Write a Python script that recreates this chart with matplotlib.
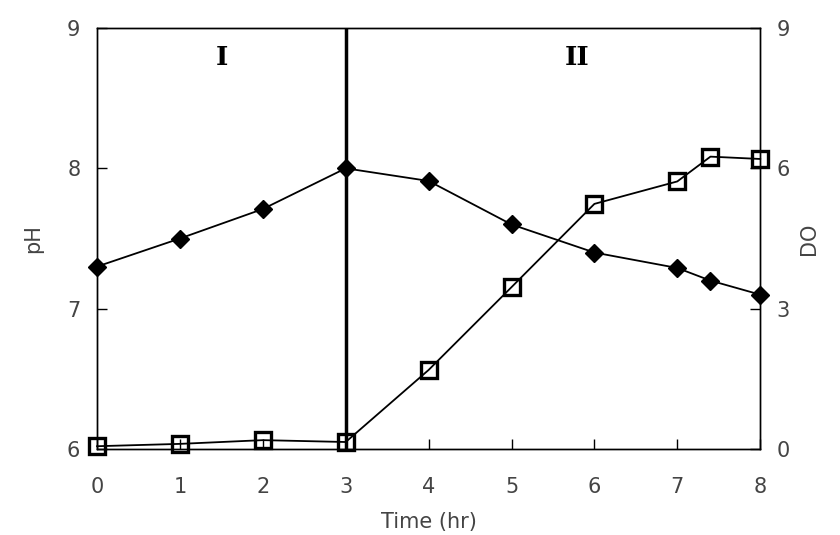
import matplotlib
matplotlib.use("Agg")
import matplotlib.pyplot as plt

# time points (hr)
time_ph = [0, 1, 2, 3, 4, 5, 6, 7, 7.4, 8]
ph = [7.3, 7.5, 7.71, 8.0, 7.91, 7.6, 7.4, 7.29, 7.2, 7.1]

time_do = [0, 1, 2, 3, 4, 5, 6, 7, 7.4, 8]
do = [0.06, 0.11, 0.19, 0.15, 1.69, 3.46, 5.24, 5.72, 6.25, 6.2]

xticks = [0, 1, 2, 3, 4, 5, 6, 7, 8]
ph_ticks = [6, 7, 8, 9]
do_ticks = [0, 3, 6, 9]

tick_col = '#444444'

fig = plt.figure(figsize=(8.4, 5.35), dpi=100)
ax = fig.add_axes([0.1155, 0.1607, 0.7895, 0.787])
ax2 = ax.twinx()

ax.plot(time_ph, ph, color='black', lw=1.3, marker='D', ms=9,
        mfc='black', mec='black', zorder=3, clip_on=False)
ax2.plot(time_do, do, color='black', lw=1.3, marker='s', ms=11,
         mfc='none', mec='black', mew=2.4, zorder=3, clip_on=False)

# phase boundary
ax.axvline(3, color='black', lw=2.5, zorder=2)
ax.text(1.51, 8.79, 'I', fontsize=19, fontweight='bold', family='DejaVu Serif',
        ha='center', va='center')
ax.text(5.79, 8.79, 'II', fontsize=19, fontweight='bold', family='DejaVu Serif',
        ha='center', va='center')

ax.set_xlim(0, 8)
ax.set_ylim(6, 9)
ax2.set_ylim(0, 9)
ax.set_xticks(xticks)
ax.set_yticks(ph_ticks)
ax2.set_yticks(do_ticks)

for a in (ax, ax2):
    a.tick_params(direction='in', length=7, width=1, labelsize=15,
                  labelcolor=tick_col, pad=12)
    for s in a.spines.values():
        s.set_linewidth(1)
ax.tick_params(axis='x', pad=20)

ax.set_xlabel('Time (hr)', fontsize=15, color=tick_col, labelpad=11)
ax.set_ylabel('pH', fontsize=15, color=tick_col, labelpad=17)
ax2.set_ylabel('DO', fontsize=15, color=tick_col, labelpad=6)

fig.savefig('out.png', dpi=100)
